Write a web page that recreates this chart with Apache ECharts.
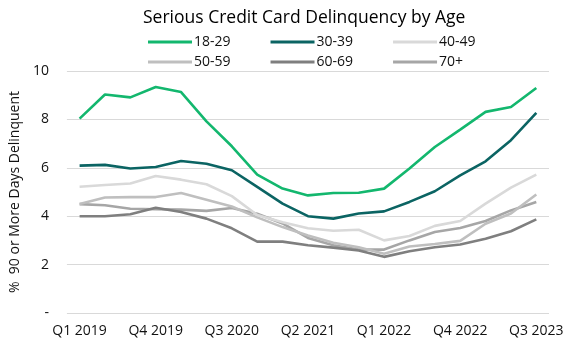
<!DOCTYPE html>
<html><head><meta charset="utf-8">
<script src="https://cdn.jsdelivr.net/npm/echarts@6/dist/echarts.min.js"></script>
<style>html,body{margin:0;padding:0;background:#fff}#c{width:580px;height:349px}</style>
</head><body><div id="c"></div>
<script>
const categories = ['Q1 2019','Q2 2019','Q3 2019','Q4 2019','Q1 2020','Q2 2020','Q3 2020','Q4 2020','Q1 2021','Q2 2021','Q3 2021','Q4 2021','Q1 2022','Q2 2022','Q3 2022','Q4 2022','Q1 2023','Q2 2023','Q3 2023'];
const age18_29 = [8.03, 9.03, 8.91, 9.34, 9.13, 7.92, 6.89, 5.72, 5.14, 4.86, 4.96, 4.97, 5.14, 5.97, 6.86, 7.58, 8.31, 8.51, 9.30];
const age30_39 = [6.09, 6.12, 5.97, 6.03, 6.28, 6.17, 5.90, 5.21, 4.52, 4.00, 3.90, 4.11, 4.20, 4.59, 5.03, 5.69, 6.27, 7.14, 8.27];
const age40_49 = [5.22, 5.29, 5.35, 5.66, 5.51, 5.32, 4.83, 4.05, 3.75, 3.50, 3.40, 3.44, 3.00, 3.18, 3.60, 3.80, 4.52, 5.18, 5.72];
const age50_59 = [4.50, 4.77, 4.79, 4.79, 4.96, 4.68, 4.40, 3.95, 3.55, 3.20, 2.90, 2.72, 2.45, 2.75, 2.85, 2.98, 3.69, 4.11, 4.90];
const age60_69 = [4.00, 4.00, 4.08, 4.35, 4.17, 3.90, 3.50, 2.95, 2.95, 2.80, 2.70, 2.58, 2.32, 2.55, 2.72, 2.83, 3.07, 3.38, 3.87];
const age70p  = [4.50, 4.45, 4.31, 4.29, 4.27, 4.22, 4.34, 4.10, 3.70, 3.10, 2.80, 2.62, 2.62, 3.00, 3.35, 3.51, 3.80, 4.24, 4.59];
const seriesNames = ['18-29','30-39','40-49','50-59','60-69','70+'];
const yTicks = [0, 2, 4, 6, 8, 10];

const colors = ['#13b76e','#0b6463','#d9d9d9','#bfbfbf','#7f7f7f','#a6a6a6'];
const dataSets = [age18_29, age30_39, age40_49, age50_59, age60_69, age70p];
const FONT = 'Open Sans';

const chart = echarts.init(document.getElementById('c'), null, {renderer:'canvas'});
const legendCommon = {
  icon: 'rect', itemWidth: 44, itemHeight: 3, itemGap: 40,
  textStyle: {fontFamily: FONT, fontSize: 14, color: '#111', padding: [0,0,0,-3]},
  selectedMode: false
};
chart.setOption({
  animation: false,
  color: colors,
  title: {
    text: 'Serious Credit Card Delinquency by Age',
    left: 138, top: 4,
    textStyle: {fontFamily: FONT, fontSize: 17.5, fontWeight: 'normal', color: '#000'}
  },
  legend: [
    Object.assign({left: 143, top: 30, data: seriesNames.slice(0,3)}, legendCommon),
    Object.assign({left: 143, top: 50, data: seriesNames.slice(3)}, legendCommon)
  ],
  grid: {left: 63, right: 31, top: 71, bottom: 36},
  xAxis: {
    type: 'category', data: categories, boundaryGap: true,
    axisLine: {show: false}, axisTick: {show: false},
    axisLabel: {interval: 2, fontFamily: FONT, fontSize: 14, color: '#111', margin: 11}
  },
  yAxis: {
    type: 'value', min: 0, max: 10, interval: 2,
    axisLine: {show: false}, axisTick: {show: false},
    splitLine: {lineStyle: {color: '#d9d9d9', width: 1}},
    axisLabel: {fontFamily: FONT, fontSize: 14, color: '#111', margin: 18,
      formatter: v => yTicks.includes(v) ? (v === 0 ? '-' : String(v)) : ''},
    name: '%  90 or More Days Delinquent', nameLocation: 'middle', nameGap: 38,
    nameTextStyle: {fontFamily: FONT, fontSize: 14, color: '#111'}
  },
  series: seriesNames.map((n, i) => ({
    name: n, type: 'line', data: dataSets[i], symbol: 'none',
    lineStyle: {width: 2.6, color: colors[i]}, itemStyle: {color: colors[i]},
    z: 10 - i
  }))
});
</script></body></html>
